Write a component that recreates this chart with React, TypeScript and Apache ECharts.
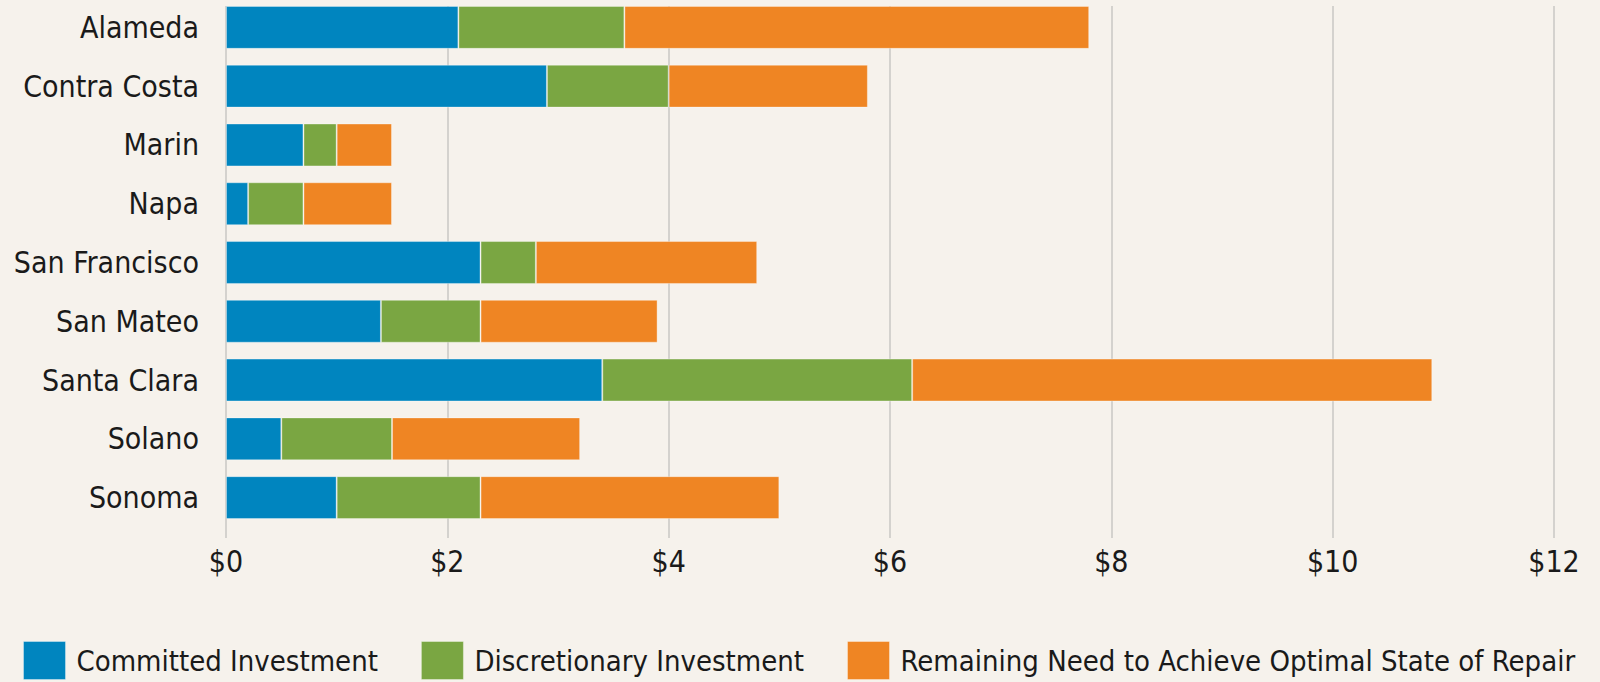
import React, { useEffect, useRef } from "react";
import * as echarts from "echarts";

const categories = [
  "Alameda",
  "Contra Costa",
  "Marin",
  "Napa",
  "San Francisco",
  "San Mateo",
  "Santa Clara",
  "Solano",
  "Sonoma",
];
const committed = [2.1, 2.9, 0.7, 0.2, 2.3, 1.4, 3.4, 0.5, 1.0];
const discretionary = [1.5, 1.1, 0.3, 0.5, 0.5, 0.9, 2.8, 1.0, 1.3];
const remaining = [4.2, 1.8, 0.5, 0.8, 2.0, 1.6, 4.7, 1.7, 2.7];
const seriesNames = [
  "Committed Investment",
  "Discretionary Investment",
  "Remaining Need to Achieve Optimal State of Repair",
];
const colors = ["#0085BF", "#7AA642", "#EF8523"];

const FONT = '"DejaVu Sans Condensed", "Liberation Sans", sans-serif';

export default function App() {
  const ref = useRef<HTMLDivElement>(null);
  useEffect(() => {
    if (!ref.current) return;
    const chart = echarts.init(ref.current, undefined, { renderer: "svg" });
    const mk = (name: string, data: number[], color: string) => ({
      name,
      type: "bar",
      stack: "total",
      xAxisIndex: 0,
      yAxisIndex: 0,
      data,
      barCategoryGap: "27%",
      itemStyle: { color, borderColor: "rgba(255,255,255,0.35)", borderWidth: 1 },
    });
    chart.setOption({
      animation: false,
      backgroundColor: "#F6F2EC",
      textStyle: { fontFamily: FONT },
      grid: [
        { left: 226, width: 1328, top: -2, height: 529, containLabel: false, outerBoundsMode: "none" },
        { left: 226, width: 1328, top: 6, height: 532, containLabel: false, outerBoundsMode: "none" },
      ],
      xAxis: [
        { type: "value", gridIndex: 0, min: 0, max: 12, interval: 2, show: false },
        {
          type: "value",
          gridIndex: 1,
          min: 0,
          max: 12,
          interval: 2,
          axisLine: { show: false },
          axisTick: { show: false },
          splitLine: { show: true, lineStyle: { color: "#C9C7C4", width: 1.5 } },
          axisLabel: {
            margin: 8,
            color: "#1a1a1a",
            fontSize: 30,
            fontFamily: FONT,
            formatter: (v: number) => "$" + v,
          },
        },
      ],
      yAxis: [
        {
          type: "category",
          gridIndex: 0,
          data: categories,
          inverse: true,
          axisLine: { show: false },
          axisTick: { show: false },
          splitLine: { show: false },
          axisLabel: { margin: 27, color: "#1a1a1a", fontSize: 30, fontFamily: FONT },
        },
        { type: "value", gridIndex: 1, show: false, min: 0, max: 1 },
      ],
      legend: {
        left: 23,
        top: 641,
        padding: 0,
        itemWidth: 42,
        itemHeight: 38,
        itemGap: 43,
        icon: "rect",
        data: seriesNames,
        textStyle: { fontSize: 29, color: "#1a1a1a", fontFamily: FONT, padding: [0, 0, 0, 6] },
        itemStyle: { borderColor: "rgba(255,255,255,0.35)", borderWidth: 1 },
      },
      series: [
        mk(seriesNames[0], committed, colors[0]),
        mk(seriesNames[1], discretionary, colors[1]),
        mk(seriesNames[2], remaining, colors[2]),
      ],
    });
    return () => chart.dispose();
  }, []);
  return <div ref={ref} style={{ width: 1600, height: 682, position: "absolute", left: 0, top: 0 }} />;
}
